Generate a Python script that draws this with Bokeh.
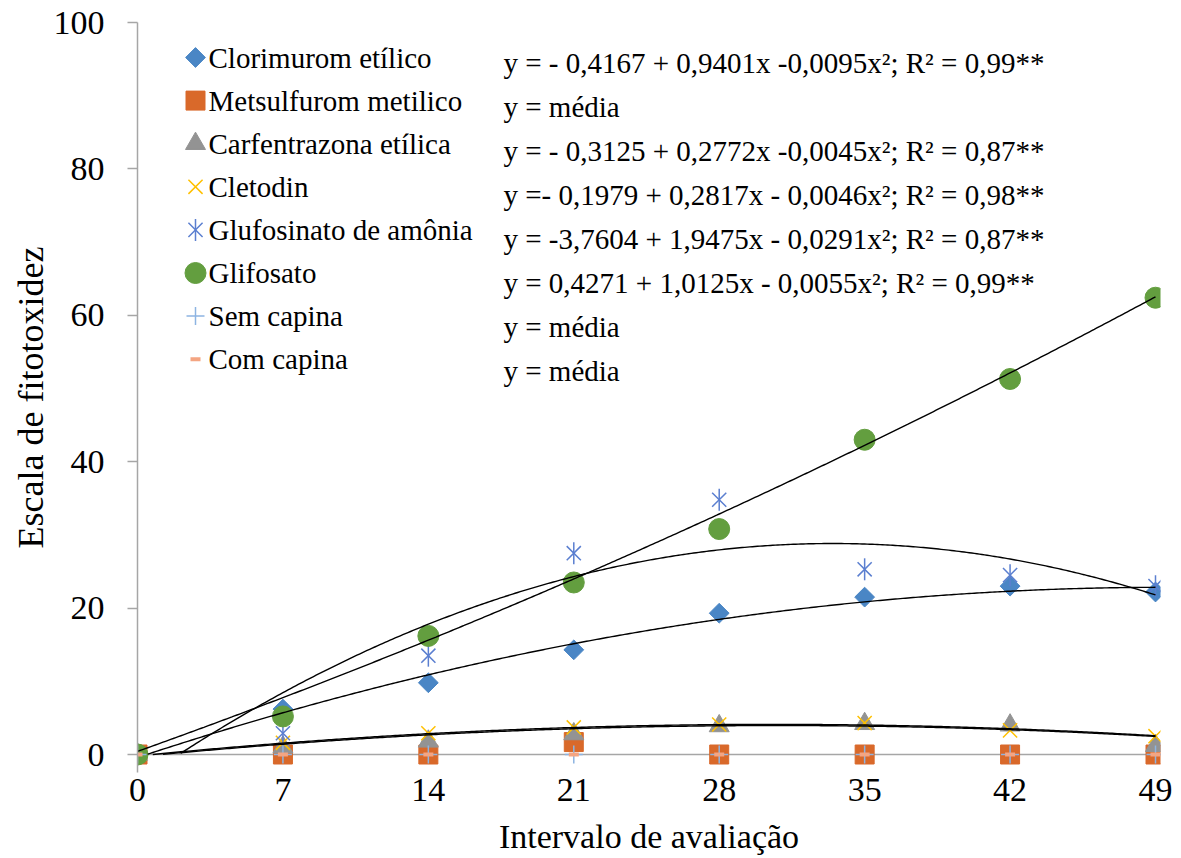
import numpy as np
from bokeh.plotting import figure
from bokeh.models import Range1d, FixedTicker, Span, ColumnDataSource
from bokeh.embed import file_html
from bokeh.resources import INLINE
from bokeh.core.properties import value

# ---------------- data ----------------
intervals = [0, 7, 14, 21, 28, 35, 42, 49]
clorimurom = [0, 6.2, 9.8, 14.3, 19.3, 21.5, 23.0, 22.2]
metsulfurom = [0, 0, 0, 1.7, 0, 0, 0, 0]
carfentrazona = [0, 1.0, 1.8, 2.8, 3.9, 4.2, 4.0, 1.2]
cletodin = [0, 1.6, 2.9, 3.7, 4.1, 4.3, 3.3, 2.5]
glufosinato = [0, 2.9, 13.5, 27.5, 34.8, 25.3, 24.5, 23.0]
glifosato = [0, 5.2, 16.2, 23.5, 30.8, 43.0, 51.3, 62.4]
sem_capina = [0, 0, 0, 0, 0, 0, 0, 0]
com_capina = [0, 0, 0, 0, 0, 0, 0, 0]

series_names = ["Clorimurom etílico", "Metsulfurom metilico", "Carfentrazona etílica",
                "Cletodin", "Glufosinato de amônia", "Glifosato", "Sem capina", "Com capina"]

equations = [
    "y = - 0,4167 + 0,9401x -0,0095x²; R² = 0,99**",
    "y = média",
    "y = - 0,3125 + 0,2772x -0,0045x²; R² = 0,87**",
    "y =- 0,1979 + 0,2817x - 0,0046x²; R² = 0,98**",
    "y = -3,7604 + 1,9475x - 0,0291x²; R² = 0,87**",
    "y = 0,4271 + 1,0125x - 0,0055x²;  R² = 0,99**",
    "y = média",
    "y = média",
]

# trend-line coefficients (c0, c1, c2) as the curves appear in the chart
trend_clorimurom = [-0.4167, 0.9401, -0.0095]
trend_carfentrazona = [-0.3125, 0.2772, -0.0045]
trend_cletodin = [-0.1979, 0.2817, -0.0046]
trend_glufosinato = [-3.7604, 1.9475, -0.0291]
trend_glifosato = [0.4271, 1.0125, 0.0052]

y_ticks = [0, 20, 40, 60, 80, 100]
x_ticks = intervals

x_label = "Intervalo de avaliação"
y_label = "Escala de fitotoxidez"

# ---------------- layout helpers ----------------
FONT = "Liberation Serif"
FRAME_W, FRAME_H = 1023, 750
LEFT, TOP = 137, 22
X_MAX = 49 * FRAME_W / 1018.0
Y_SPAN = 100 * FRAME_H / 732.0
Y_MIN = 100 - Y_SPAN

def dx(px):  # screen x -> data x
    return (px - LEFT) / FRAME_W * X_MAX

def dy(py):  # screen y -> data y
    return (TOP + 732 - py) / 732.0 * 100

p = figure(frame_width=FRAME_W, frame_height=FRAME_H,
           x_range=Range1d(0, X_MAX), y_range=Range1d(Y_MIN, 100),
           output_backend="svg", toolbar_location=None,
           min_border_left=LEFT, min_border_right=16, min_border_top=TOP, min_border_bottom=84)
p.outline_line_color = None
p.xgrid.visible = False
p.ygrid.visible = False
p.background_fill_color = "white"
p.border_fill_color = "white"

AX_COLOR = "#A6A6A6"

xa = p.xaxis[0]
xa.ticker = FixedTicker(ticks=x_ticks)
xa.axis_line_color = None
xa.major_tick_line_color = None
xa.major_tick_out = 0
xa.major_tick_in = 0
xa.minor_tick_line_color = None
xa.major_label_text_font = FONT
xa.major_label_text_font_size = "34px"
xa.major_label_text_color = "black"
xa.major_label_standoff = 6
xa.axis_label = x_label
xa.axis_label_text_font = FONT
xa.axis_label_text_font_size = "34px"
xa.axis_label_text_font_style = "normal"
xa.axis_label_text_color = "black"
xa.axis_label_standoff = 14

ya = p.yaxis[0]
ya.ticker = FixedTicker(ticks=y_ticks)
ya.axis_line_color = AX_COLOR
ya.axis_line_width = 1.5
ya.major_tick_line_color = AX_COLOR
ya.major_tick_line_width = 1.5
ya.major_tick_out = 10
ya.major_tick_in = 0
ya.minor_tick_line_color = None
ya.major_label_text_font = FONT
ya.major_label_text_font_size = "34px"
ya.major_label_text_color = "black"
ya.major_label_standoff = 23
ya.axis_label = y_label
ya.axis_label_text_font = FONT
ya.axis_label_text_font_size = "36px"
ya.axis_label_text_font_style = "normal"
ya.axis_label_text_color = "black"
ya.axis_label_standoff = 0

p.add_layout(Span(location=0, dimension="width", line_color=AX_COLOR,
                  line_width=1.5, level="underlay"))

# ---------------- marker styles ----------------
C_DIAMOND = "#4A86C5"
C_SQUARE = "#D9692A"
C_TRI = "#939393"
C_X = "#FFC000"
C_AST = "#5B7FD0"
C_CIRC = "#639E3F"
C_PLUS = "#8DB4E2"
C_DASH = "#F4A582"

def draw_marker(kind, xs, ys):
    src = ColumnDataSource(dict(x=xs, y=ys))
    if kind == 0:
        p.scatter("x", "y", source=src, marker="square", angle=np.pi / 4, size=14,
                  fill_color=C_DIAMOND, line_color=C_DIAMOND)
    elif kind == 1:
        p.scatter("x", "y", source=src, marker="square", size=19,
                  fill_color=C_SQUARE, line_color=C_SQUARE)
    elif kind == 2:
        p.scatter("x", "y", source=src, marker="triangle", size=20,
                  fill_color=C_TRI, line_color=C_TRI)
    elif kind == 3:
        p.scatter("x", "y", source=src, marker="x", size=20,
                  line_color=C_X, line_width=1.5)
    elif kind == 4:
        p.scatter("x", "y", source=src, marker="x", size=20,
                  line_color=C_AST, line_width=1.5)
        p.scatter("x", "y", source=src, marker="dash", angle=np.pi / 2, size=22,
                  line_color=C_AST, line_width=1.5)
    elif kind == 5:
        p.scatter("x", "y", source=src, marker="circle", size=21,
                  fill_color=C_CIRC, line_color=C_CIRC)
    elif kind == 6:
        p.scatter("x", "y", source=src, marker="cross", size=18,
                  line_color=C_PLUS, line_width=1.5)
    elif kind == 7:
        p.scatter("x", "y", source=src, marker="dash", size=10,
                  line_color=C_DASH, line_width=4)

all_series = [clorimurom, metsulfurom, carfentrazona, cletodin,
              glufosinato, glifosato, sem_capina, com_capina]

for k, ser in enumerate(all_series):
    draw_marker(k, intervals, ser)

# ---------------- trend lines ----------------
xs = np.linspace(0, 49, 400)
for coef in [trend_clorimurom, trend_carfentrazona, trend_cletodin,
             trend_glufosinato, trend_glifosato]:
    ys = coef[0] + coef[1] * xs + coef[2] * xs ** 2
    m = ys >= 0
    p.line(xs[m], ys[m], line_color="black", line_width=1.4)

# ---------------- legend (manual) ----------------
for i, name in enumerate(series_names):
    draw_marker(i, [dx(195)], [dy(57 + 43.1 * i)])
p.text(x=[dx(208)] * len(series_names),
       y=[dy(57 + 43.1 * i) for i in range(len(series_names))],
       text=series_names, text_font=value(FONT), text_font_size="29px",
       text_color="black", text_baseline="middle", text_align="left")

# ---------------- equations ----------------
p.text(x=[dx(503)] * len(equations),
       y=[dy(62 + 44 * i) for i in range(len(equations))],
       text=equations, text_font=value(FONT), text_font_size="29px",
       text_color="black", text_baseline="middle", text_align="left")

open("out.html", "w").write(file_html(p, INLINE))
